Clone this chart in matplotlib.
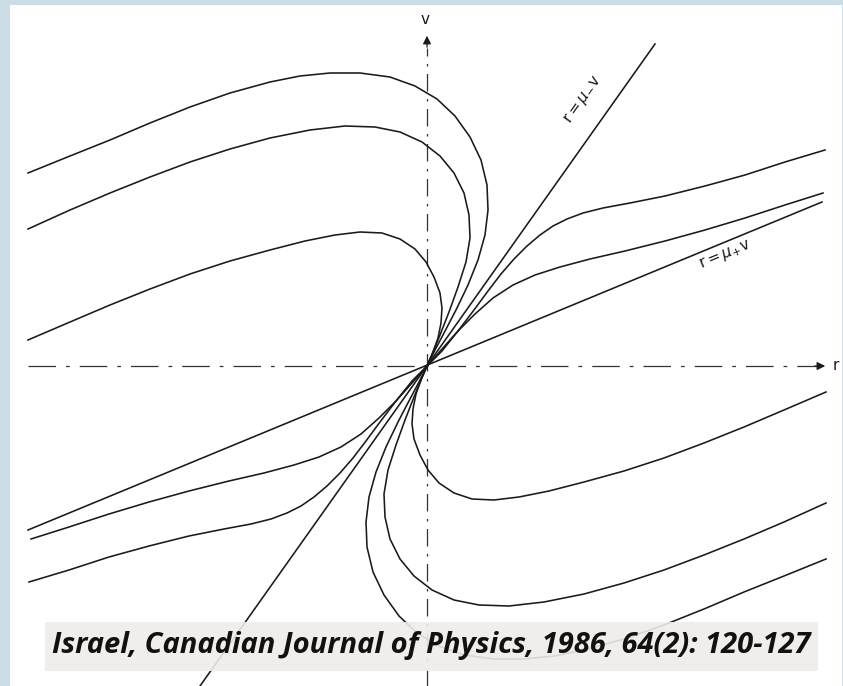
import matplotlib.pyplot as plt
from matplotlib.patches import Rectangle

# trajectories in the (r, v) plane, node at the origin (arbitrary units)
# upper half, coming in from the left
c1_r = [-399, -357, -317, -277, -237, -197, -157, -127, -97, -67, -37, -12, 10, 28, 43, 54, 60, 61, 58, 51, 41, 29, 17, 8, 0]
c1_v = [193, 210, 226, 243, 259, 273, 284, 290, 293, 293, 289, 280, 267, 250, 229, 206, 181, 156, 131, 106, 81, 56, 33, 16, 0]
c2_r = [-399, -357, -317, -277, -237, -197, -157, -117, -82, -52, -27, -5, 13, 27, 37, 42, 43, 39, 31, 22, 13, 6, 0]
c2_v = [137, 156, 173, 189, 204, 217, 228, 236, 240, 239, 234, 224, 210, 193, 173, 151, 128, 104, 79, 54, 31, 14, 0]
c3_r = [-399, -357, -317, -277, -237, -197, -157, -122, -92, -67, -45, -27, -12, -1, 7, 13, 15, 14, 11, 6, 0]
c3_v = [26, 44, 61, 77, 92, 105, 116, 125, 131, 134, 133, 127, 117, 104, 89, 73, 58, 43, 28, 14, 0]
# upper half, coming in from the right
a_r = [398, 358, 318, 278, 238, 203, 176, 156, 140, 126, 113, 100, 87, 74, 61, 47, 31, 15, 0]
a_v = [216, 204, 191, 180, 170, 163, 158, 153, 147, 140, 131, 120, 107, 92, 75, 56, 35, 15, 0]
b_r = [396, 358, 318, 278, 238, 198, 163, 133, 108, 86, 66, 48, 31, 15, 0]
b_v = [173, 161, 148, 136, 125, 115, 107, 99, 91, 81, 68, 52, 35, 17, 0]

# lower half, going out to the right
d1_r = [399, 357, 317, 277, 237, 197, 157, 127, 97, 67, 37, 12, -10, -28, -43, -54, -60, -61, -58, -51, -41, -29, -17, -8, 0]
d1_v = [-193, -210, -226, -243, -259, -273, -284, -290, -293, -293, -289, -280, -267, -250, -229, -206, -181, -156, -131, -106, -81, -56, -33, -16, 0]
d2_r = [399, 357, 317, 277, 237, 197, 157, 117, 82, 52, 27, 5, -13, -27, -37, -42, -43, -39, -31, -22, -13, -6, 0]
d2_v = [-137, -156, -173, -189, -204, -217, -228, -236, -240, -239, -234, -224, -210, -193, -173, -151, -128, -104, -79, -54, -31, -14, 0]
d3_r = [399, 357, 317, 277, 237, 197, 157, 122, 92, 67, 45, 27, 12, 1, -7, -13, -15, -14, -11, -6, 0]
d3_v = [-26, -44, -61, -77, -92, -105, -116, -125, -131, -134, -133, -127, -117, -104, -89, -73, -58, -43, -28, -14, 0]
# lower half, going out to the left
e_r = [-398, -358, -318, -278, -238, -203, -176, -156, -140, -126, -113, -100, -87, -74, -61, -47, -31, -15, 0]
e_v = [-216, -204, -191, -180, -170, -163, -158, -153, -147, -140, -131, -120, -107, -92, -75, -56, -35, -15, 0]
f_r = [-396, -358, -318, -278, -238, -198, -163, -133, -108, -86, -66, -48, -31, -15, 0]
f_v = [-173, -161, -148, -136, -125, -115, -107, -99, -91, -81, -68, -52, -35, -17, 0]

# the two straight solutions r = mu_- v and r = mu_+ v
mum_r = [-227, 228]
mum_v = [-320, 322]
mup_r = [-399, 395]
mup_v = [-164, 164]

caption = "Israel, Canadian Journal of Physics, 1986, 64(2): 120-127"

fig = plt.figure(figsize=(8.43, 6.86), dpi=100, facecolor='#cddde8')
ax = fig.add_axes([0, 0, 1, 1])
ax.set_xlim(-427, 416)
ax.set_ylim(-320, 366)
ax.axis('off')

# white page behind the figure
ax.add_patch(Rectangle((10 / 843, 0), 832 / 843, 681 / 686, transform=ax.transAxes,
                       facecolor='white', edgecolor='none', zorder=0))

ink = '#1a1a1a'
curves = [(c1_r, c1_v), (c2_r, c2_v), (c3_r, c3_v), (a_r, a_v), (b_r, b_v),
          (d1_r, d1_v), (d2_r, d2_v), (d3_r, d3_v), (e_r, e_v), (f_r, f_v)]
for r, v in curves:
    ax.plot(r, v, color=ink, lw=1.15, solid_joinstyle='round', zorder=3)

ax.plot(mum_r, mum_v, color=ink, lw=1.15, zorder=3)
ax.plot(mup_r, mup_v, color=ink, lw=1.15, zorder=3)

# dashed coordinate axes with arrow heads
ax.plot([-399, 392], [0, 0], color='#333333', lw=0.9, dashes=(22, 8, 3, 8), zorder=2)
ax.plot([0, 0], [-320, 318], color='#333333', lw=0.9, dashes=(14, 6, 2, 6), zorder=2)
ax.annotate('', xy=(401, 0), xytext=(385, 0),
            arrowprops=dict(arrowstyle='-|>', color=ink, lw=0.9, mutation_scale=12))
ax.annotate('', xy=(0, 333), xytext=(0, 316),
            arrowprops=dict(arrowstyle='-|>', color=ink, lw=0.9, mutation_scale=12))
ax.text(409, 0, 'r', fontsize=11, ha='center', va='center', color=ink)
ax.text(-2, 346, 'v', fontsize=11, ha='center', va='center', color=ink)

ax.text(156, 266, r'r$=\mu_{-}$v', fontsize=11, rotation=54.7, rotation_mode='anchor',
        ha='center', va='center', color=ink)
ax.text(298, 111, r'r$=\mu_{+}$v', fontsize=11, rotation=22.5, rotation_mode='anchor',
        ha='center', va='center', color=ink)

# citation strip
ax.add_patch(Rectangle((-382, -305), 773, 49, facecolor='#efebe8', alpha=0.9,
                       edgecolor='none', zorder=4))
ax.text(4, -280, caption, fontsize=21, fontweight='bold', fontstyle='italic',
        family=['Open Sans', 'DejaVu Sans'], ha='center', va='center', color='#111111', zorder=5)

fig.savefig('out.png', dpi=100, facecolor=fig.get_facecolor())
